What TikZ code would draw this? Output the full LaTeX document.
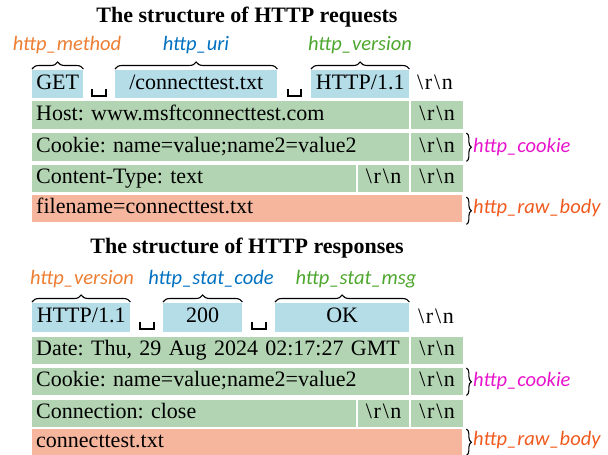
\documentclass[tikz,border=0pt]{standalone}
\usepackage{fontspec}
\setmainfont{Liberation Serif}
\newfontfamily\lblfont{Carlito}
\usetikzlibrary{decorations.pathreplacing}
\definecolor{cblue}{RGB}{181,221,232}
\definecolor{cgreen}{RGB}{178,212,178}
\definecolor{csalmon}{RGB}{246,182,158}
\definecolor{lorange}{RGB}{237,125,49}
\definecolor{lblue}{RGB}{0,112,192}
\definecolor{lgreen}{RGB}{78,167,46}
\definecolor{lmagenta}{RGB}{232,20,204}
\definecolor{lred}{RGB}{240,90,30}
\newcommand{\rn}{\textbackslash\kern1.5pt r\kern2pt\textbackslash\kern1.5pt n}
\frenchspacing
\begin{document}
\begin{tikzpicture}[x=1pt,y=-1pt,
  cell/.style={inner sep=0pt, anchor=north west, text height=15pt, text depth=5pt,
    font=\fontsize{22}{26}\selectfont},
  bcell/.style={cell, fill=cblue},
  gcell/.style={cell, fill=cgreen},
  scell/.style={cell, fill=csalmon},
  lcell/.style={inner xsep=4pt, align=left},
  plain/.style={inner sep=0pt, text height=15pt, text depth=5pt, font=\fontsize{22}{26}\selectfont},
  titlet/.style={font=\fontsize{22}{26}\selectfont\bfseries},
  lbl/.style={font=\fontsize{20.5}{24}\selectfont\lblfont\itshape, inner sep=0pt},
  topbrace/.style={decorate, decoration={brace, amplitude=7pt}, line width=1.1pt},
  sidebrace/.style={decorate, decoration={brace, amplitude=5pt}, line width=1.1pt},
  spc/.style={line width=2pt},
]
\useasboundingbox (0,0) rectangle (608,455);

% ================= Requests =================
\node[titlet] (t1) at (247,17) {The structure of HTTP requests};

\node[bcell, minimum width=51, minimum height=28] (get) at (32,70) {GET};
\node[bcell, minimum width=162, minimum height=28] (uri) at (115,70) {/connecttest.txt};
\node[bcell, minimum width=98, minimum height=28] (ver) at (311,70) {HTTP/1.1};
\node[plain] (rn1) at (435,84) {\rn};
\draw[spc] (92,89) -- (92,96) -- (106,96) -- (106,89);
\draw[spc] (288,89) -- (288,96) -- (301,96) -- (301,89);

\draw[topbrace] ([yshift=1pt]get.north west) -- ([yshift=1pt]get.north east);
\draw[topbrace] ([yshift=1pt]uri.north west) -- ([yshift=1pt]uri.north east);
\draw[topbrace] ([yshift=1pt]ver.north west) -- ([yshift=1pt]ver.north east);
\node[lbl, text=lorange] (lmeth) at (67,45) {http\_method};
\node[lbl, text=lblue] (luri) at (196,45) {http\_uri};
\node[lbl, text=lgreen] (lver) at (360,45) {http\_version};

\node[gcell, lcell, text width=369pt, minimum height=28] (host) at (32,101) {Host: www.msftconnecttest.com};
\node[gcell, minimum width=52, minimum height=28] (hostr) at (411,101) {\rn};

\node[gcell, lcell, text width=369pt, minimum height=28] (cook) at (32,133) {Cookie: name=value;name2=value2};
\node[gcell, minimum width=52, minimum height=28] (cookr) at (411,133) {\rn};

\node[gcell, lcell, text width=316pt, minimum height=27] (ctype) at (32,165) {Content-Type: text};
\node[gcell, minimum width=51, minimum height=27] (ctyper) at (358,165) {\rn};
\node[gcell, minimum width=52, minimum height=27] (ctyperr) at (411,165) {\rn};

\node[scell, lcell, text width=422pt, minimum height=27] (body) at (32,195) {filename=connecttest.txt};

\draw[sidebrace] ([xshift=3pt]cookr.north east) -- ([xshift=3pt]cookr.south east);
\node[lbl, text=lmagenta, anchor=west] (lcook) at (473,147) {http\_cookie};
\draw[sidebrace] ([xshift=4pt,yshift=-2pt]body.north east) -- ([xshift=4pt,yshift=-2pt]body.south east);
\node[lbl, text=lred, anchor=west] (lbody) at (473,208) {http\_raw\_body};

% ================= Responses =================
\node[titlet] (t2) at (247,248) {The structure of HTTP responses};

\node[bcell, minimum width=98, minimum height=29] (rver) at (32,303) {HTTP/1.1};
\node[bcell, minimum width=79, minimum height=29] (code) at (163,303) {200};
\node[bcell, minimum width=134, minimum height=29] (msg) at (275,303) {OK};
\node[plain] (rn2) at (436,318) {\rn};
\draw[spc] (140,322) -- (140,329) -- (154,329) -- (154,322);
\draw[spc] (252,322) -- (252,329) -- (266,329) -- (266,322);

\draw[topbrace] ([yshift=1pt]rver.north west) -- ([yshift=1pt]rver.north east);
\draw[topbrace] ([yshift=1pt]code.north west) -- ([yshift=1pt]code.north east);
\draw[topbrace] ([yshift=1pt]msg.north west) -- ([yshift=1pt]msg.north east);
\node[lbl, text=lorange] (lrver) at (82,279) {http\_version};
\node[lbl, text=lblue] (lcode) at (211,279) {http\_stat\_code};
\node[lbl, text=lgreen] (lmsg) at (356,279) {http\_stat\_msg};

\node[gcell, lcell, text width=369pt, minimum height=27] (date) at (32,337) {Date: Thu, 29 Aug 2024 02:17:27 GMT};
\node[gcell, minimum width=52, minimum height=27] (dater) at (411,337) {\rn};

\node[gcell, lcell, text width=369pt, minimum height=27] (rcook) at (32,368) {Cookie: name=value;name2=value2};
\node[gcell, minimum width=52, minimum height=27] (rcookr) at (411,368) {\rn};

\node[gcell, lcell, text width=316pt, minimum height=27] (conn) at (32,400) {Connection: close};
\node[gcell, minimum width=51, minimum height=27] (connr) at (358,400) {\rn};
\node[gcell, minimum width=52, minimum height=27] (connrr) at (411,400) {\rn};

\node[scell, lcell, text width=422pt, minimum height=26] (rbody) at (32,429) {connecttest.txt};

\draw[sidebrace] ([xshift=3pt]rcookr.north east) -- ([xshift=3pt]rcookr.south east);
\node[lbl, text=lmagenta, anchor=west] (lrcook) at (473,381) {http\_cookie};
\draw[sidebrace] ([xshift=4pt]rbody.north east) -- ([xshift=4pt]rbody.south east);
\node[lbl, text=lred, anchor=west] (lrbody) at (473,440) {http\_raw\_body};
\end{tikzpicture}
\end{document}
